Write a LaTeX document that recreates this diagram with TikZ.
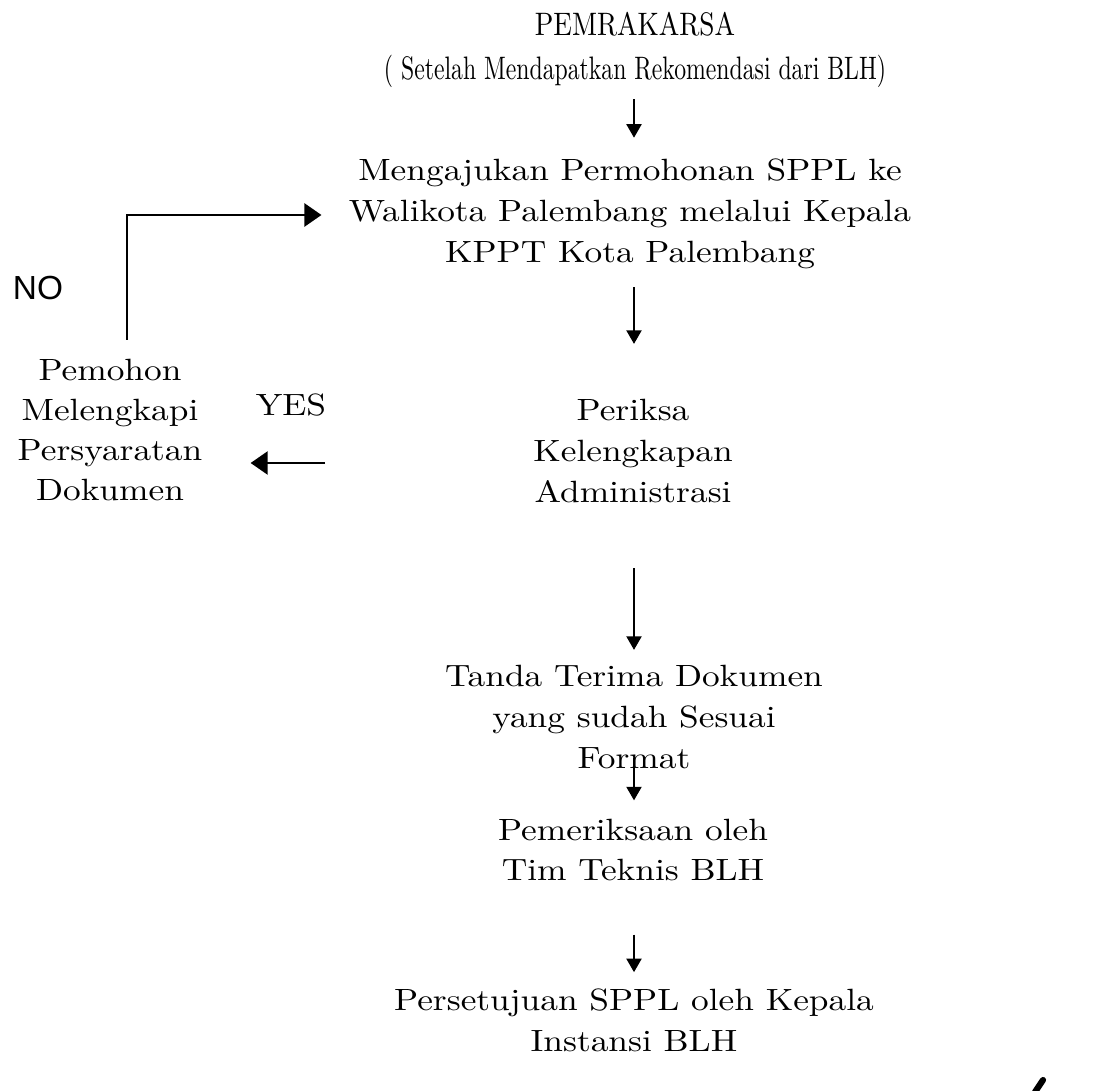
\documentclass[tikz,border=0pt]{standalone}
\usepackage{fontspec}
\setmainfont{lmroman10-regular.otf}[FakeStretch=1.15]
\newfontfamily\topfontA{lmroman10-regular.otf}[FakeStretch=0.84]
\newfontfamily\topfontB{lmroman10-regular.otf}[FakeStretch=0.73]
\newfontfamily\nofont{Liberation Sans}
\usetikzlibrary{arrows.meta}
\begin{document}
\begin{tikzpicture}[x=0.02cm,y=-0.02cm,
  txt/.style={inner sep=0pt, align=center, font=\fontsize{17.5}{23.3}\selectfont},
  flow/.style={line width=1.1pt, -{Triangle[length=0.27cm,width=0.3cm]}},
  bigflow/.style={line width=1.3pt, -{Triangle[length=0.34cm,width=0.46cm]}}]
\useasboundingbox (0,0) rectangle (1106,1091);
\coordinate (ax) at (634,0);
\node[inner sep=0pt, align=center, font=\fontsize{18.5}{25.5}\selectfont] (pemr) at (635,50)
  {{\topfontA PEMRAKARSA}\\{\topfontB ( Setelah Mendapatkan Rekomendasi dari BLH)}};
\node[txt] (meng) at (630,214) {Mengajukan Permohonan SPPL ke\\Walikota Palembang melalui Kepala\\KPPT Kota Palembang};
\node[txt] (periksa) at (633,451) {Periksa\\Kelengkapan\\Administrasi};
\node[txt, font=\fontsize{17.5}{22.8}\selectfont] (pemohon) at (110,430) {Pemohon\\Melengkapi\\Persyaratan\\Dokumen};
\node[txt] (tanda) at (634,717) {Tanda Terima Dokumen\\yang sudah Sesuai\\Format};
\node[txt] (pemer) at (633,850) {Pemeriksaan oleh\\Tim Teknis BLH};
\node[txt] (perset) at (634,1020) {Persetujuan SPPL oleh Kepala\\Instansi BLH};
\node[inner sep=0pt, font=\nofont\fontsize{19}{22}\selectfont] (no) at (38,288) {NO};
\node[txt] (yes) at (291,405) {YES};
\coordinate (lstart) at (127,340);
\coordinate (lcorner) at (127,215);
\coordinate (yesarr) at (325,463);
\draw[flow] ([yshift=-0.22cm]pemr.south -| ax) -- ([yshift=0.42cm]meng.north -| ax);
\draw[flow] ([yshift=-0.36cm]meng.south -| ax) -- ([yshift=1.1cm]periksa.north -| ax);
\draw[bigflow] (lstart) -- (lcorner) -- ([xshift=-0.54cm]meng.west |- lcorner);
\draw[bigflow] (yesarr) -- ([xshift=0.96cm]pemohon.east |- yesarr);
\draw[flow] ([yshift=-1.3cm]periksa.south -| ax) -- ([yshift=0.3cm]tanda.north -| ax);
\draw[flow] ([yshift=0.22cm]tanda.south -| ax) -- ([yshift=0.36cm]pemer.north -| ax);
\draw[flow] ([yshift=-1.06cm]pemer.south -| ax) -- ([yshift=0.32cm]perset.north -| ax);
\draw[line width=3.5pt, line cap=round] (1035,1092) -- (1043,1080);
\end{tikzpicture}
\end{document}
